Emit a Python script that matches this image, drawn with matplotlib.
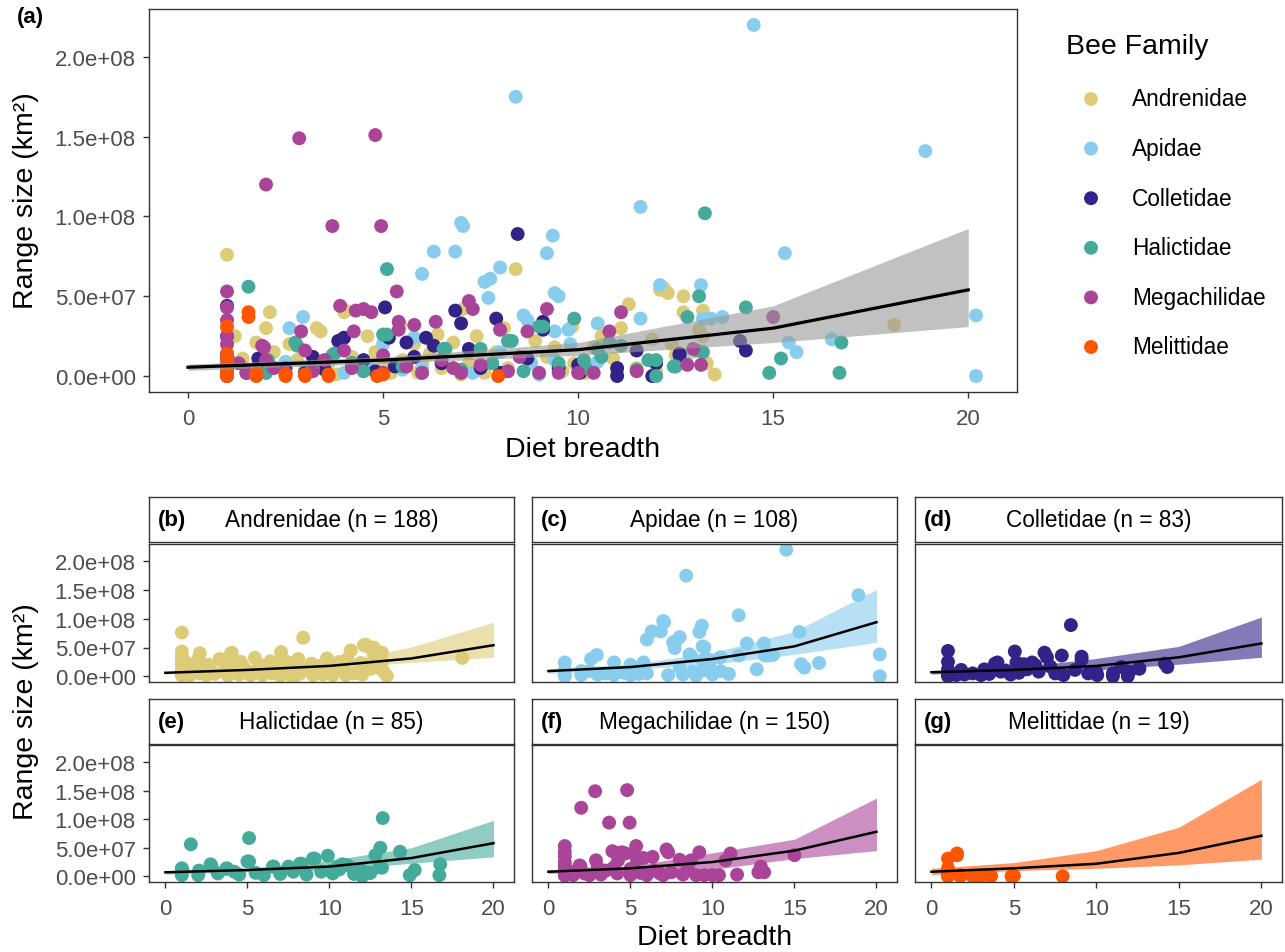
import matplotlib
matplotlib.use("Agg")
import matplotlib.pyplot as plt

plt.rcParams['font.family'] = ['Liberation Sans', 'DejaVu Sans']

W, H = 1285, 953

families = ["Andrenidae", "Apidae", "Colletidae", "Halictidae", "Megachilidae", "Melittidae"]
colors = ["#DDCC77", "#88CCEE", "#332288", "#44AA99", "#AA4499", "#FF5500"]
n_species = [188, 108, 83, 85, 150, 19]
tags = ["(b)", "(c)", "(d)", "(e)", "(f)", "(g)"]

# (diet breadth, range size in 1e8 km2)
andrenidae = [(1.0, 0.76), (1.0, 0.43), (1.0, 0.35), (1.0, 0.30), (1.0, 0.20), (1.0, 0.12), (1.0, 0.05),
              (1.0, 0.01), (1.2, 0.25), (1.4, 0.11), (1.5, 0.02), (1.75, 0.21), (2.0, 0.30), (2.1, 0.40),
              (2.1, 0.05), (2.2, 0.15), (2.5, 0.02), (2.6, 0.20), (2.8, 0.10), (3.0, 0.04), (3.3, 0.30),
              (3.4, 0.28), (3.6, 0.08), (3.8, 0.01), (3.9, 0.22), (4.0, 0.40), (4.05, 0.41), (4.2, 0.12),
              (4.5, 0.03), (4.6, 0.25), (4.8, 0.15), (5.0, 0.06), (5.2, 0.02), (5.45, 0.32), (5.5, 0.10),
              (5.8, 0.20), (5.9, 0.02), (6.0, 0.08), (6.2, 0.14), (6.4, 0.26), (6.5, 0.05), (6.8, 0.21),
              (7.0, 0.01), (7.05, 0.42), (7.2, 0.08), (7.4, 0.25), (7.6, 0.02), (7.9, 0.15), (8.0, 0.02),
              (8.1, 0.30), (8.2, 0.05), (8.4, 0.67), (8.6, 0.12), (8.9, 0.22), (9.0, 0.02), (9.2, 0.12),
              (9.4, 0.18), (9.6, 0.03), (9.85, 0.31), (9.9, 0.08), (10.2, 0.02), (10.4, 0.18), (10.6, 0.25),
              (10.9, 0.11), (11.0, 0.02), (11.1, 0.30), (11.3, 0.45), (11.5, 0.05), (11.9, 0.23), (12.0, 0.03),
              (12.1, 0.54), (12.2, 0.55), (12.3, 0.52), (12.4, 0.20), (12.5, 0.13), (12.7, 0.40), (12.7, 0.50),
              (12.9, 0.15), (13.1, 0.29), (13.2, 0.41), (13.2, 0.25), (13.3, 0.08), (13.5, 0.01), (18.1, 0.32)]

apidae = [(1.0, 0.24), (1.0, 0.10), (1.0, 0.03), (1.0, 0.0), (2.0, 0.09), (2.0, 0.02), (2.5, 0.09),
          (2.6, 0.30), (2.95, 0.37), (3.0, 0.03), (3.5, 0.05), (4.0, 0.24), (4.0, 0.02), (4.6, 0.06),
          (5.0, 0.20), (5.0, 0.02), (5.5, 0.04), (5.8, 0.24), (6.0, 0.64), (6.0, 0.05), (6.3, 0.78),
          (6.85, 0.78), (7.0, 0.96), (7.05, 0.94), (7.3, 0.02), (7.6, 0.59), (7.75, 0.61), (7.7, 0.49),
          (8.0, 0.68), (8.0, 0.15), (8.2, 0.03), (8.4, 1.75), (8.6, 0.38), (8.7, 0.35), (8.8, 0.08),
          (9.0, 0.01), (9.2, 0.77), (9.35, 0.88), (9.4, 0.52), (9.5, 0.50), (9.4, 0.28), (9.4, 0.10),
          (9.75, 0.29), (9.8, 0.20), (10.0, 0.03), (10.5, 0.33), (10.5, 0.09), (11.0, 0.04), (11.6, 1.06),
          (11.6, 0.36), (12.1, 0.57), (12.7, 0.12), (13.15, 0.57), (13.2, 0.36), (13.4, 0.36), (13.7, 0.37),
          (14.5, 2.2), (15.3, 0.77), (15.4, 0.21), (15.6, 0.15), (16.5, 0.23), (18.9, 1.41), (20.2, 0.38),
          (20.2, 0.0)]

colletidae = [(1.0, 0.44), (1.0, 0.25), (1.0, 0.12), (1.0, 0.04), (1.0, 0.0), (1.5, 0.02), (1.8, 0.11),
              (2.0, 0.03), (2.5, 0.05), (3.0, 0.02), (3.2, 0.12), (3.5, 0.04), (3.85, 0.22), (4.0, 0.24),
              (4.2, 0.08), (4.5, 0.10), (4.8, 0.03), (5.05, 0.43), (5.15, 0.24), (5.3, 0.06), (5.6, 0.21),
              (5.8, 0.12), (6.1, 0.24), (6.3, 0.19), (6.5, 0.08), (6.85, 0.41), (7.0, 0.33), (7.2, 0.17),
              (7.5, 0.05), (7.9, 0.36), (8.0, 0.02), (8.45, 0.89), (8.7, 0.11), (9.1, 0.29), (9.1, 0.34),
              (9.5, 0.05), (10.0, 0.07), (10.05, 0.02), (11.0, 0.0), (11.0, 0.05), (11.5, 0.16), (11.9, 0.0),
              (12.0, 0.08), (12.6, 0.13), (12.6, 0.14), (14.15, 0.22), (14.3, 0.16)]

halictidae = [(1.0, 0.14), (1.0, 0.02), (1.05, 0.10), (1.55, 0.56), (2.05, 0.10), (2.0, 0.02), (2.75, 0.21),
              (2.8, 0.19), (3.2, 0.05), (3.7, 0.13), (3.75, 0.14), (4.2, 0.08), (4.5, 0.03), (5.0, 0.26),
              (5.1, 0.26), (5.1, 0.67), (5.5, 0.06), (6.0, 0.02), (6.55, 0.17), (6.6, 0.17), (7.0, 0.04),
              (7.5, 0.17), (7.8, 0.08), (8.2, 0.22), (8.3, 0.22), (8.6, 0.03), (9.0, 0.31), (9.1, 0.31),
              (9.5, 0.08), (9.9, 0.36), (10.15, 0.10), (10.2, 0.05), (10.5, 0.17), (10.6, 0.12), (10.8, 0.21),
              (11.1, 0.19), (11.5, 0.04), (11.8, 0.10), (12.0, 0.0), (12.0, 0.10), (12.45, 0.06), (12.5, 0.06),
              (12.8, 0.37), (13.05, 0.16), (13.1, 0.50), (13.25, 1.02), (13.2, 0.15), (14.3, 0.43), (14.9, 0.02),
              (15.2, 0.11), (16.75, 0.21), (16.7, 0.02)]

megachilidae = [(1.0, 0.53), (1.0, 0.43), (1.0, 0.35), (1.0, 0.25), (1.0, 0.20), (1.0, 0.13), (1.0, 0.06),
                (1.0, 0.01), (1.3, 0.08), (1.5, 0.02), (1.9, 0.19), (1.95, 0.18), (2.0, 1.20), (2.0, 0.10),
                (2.2, 0.05), (2.5, 0.02), (2.85, 1.49), (2.9, 0.28), (3.0, 0.16), (3.2, 0.03), (3.5, 0.10),
                (3.7, 0.94), (3.9, 0.44), (4.0, 0.16), (4.2, 0.05), (4.25, 0.28), (4.3, 0.41), (4.5, 0.42),
                (4.7, 0.40), (4.8, 1.51), (4.95, 0.94), (5.0, 0.13), (5.0, 0.02), (5.35, 0.53), (5.4, 0.34),
                (5.4, 0.29), (5.6, 0.06), (5.8, 0.32), (6.0, 0.02), (6.35, 0.34), (6.5, 0.10), (6.8, 0.05),
                (7.0, 0.02), (7.2, 0.47), (7.3, 0.42), (7.5, 0.07), (8.0, 0.29), (8.2, 0.03), (8.5, 0.12),
                (8.7, 0.28), (9.0, 0.02), (9.2, 0.42), (9.5, 0.02), (10.0, 0.02), (10.4, 0.02), (10.8, 0.28),
                (11.1, 0.40), (11.5, 0.03), (12.8, 0.07), (12.95, 0.17), (13.15, 0.07), (15.0, 0.37)]

melittidae = [(1.0, 0.31), (1.0, 0.14), (1.0, 0.09), (1.0, 0.03), (1.0, 0.01), (1.0, 0.0), (1.55, 0.40),
              (1.55, 0.37), (1.75, 0.02), (1.75, 0.0), (2.5, 0.01), (2.5, 0.0), (3.0, 0.01), (3.0, 0.0),
              (3.6, 0.01), (3.6, 0.0), (4.85, 0.0), (5.0, 0.01), (7.95, 0.0)]

family_points = [andrenidae, apidae, colletidae, halictidae, megachilidae, melittidae]

# fitted curve and ribbon (1e8 km2) at these diet breadths
pred_x = [0, 5, 10, 15, 20]
all_fit = [0.055, 0.10, 0.165, 0.30, 0.54]
all_lo = [0.035, 0.08, 0.13, 0.21, 0.31]
all_hi = [0.075, 0.12, 0.21, 0.44, 0.925]

fam_fit = [[0.06, 0.11, 0.18, 0.31, 0.54],
           [0.09, 0.16, 0.30, 0.52, 0.94],
           [0.07, 0.11, 0.18, 0.33, 0.57],
           [0.07, 0.11, 0.17, 0.32, 0.58],
           [0.08, 0.14, 0.25, 0.45, 0.78],
           [0.08, 0.14, 0.22, 0.41, 0.71]]
fam_lo = [[0.04, 0.09, 0.14, 0.24, 0.33],
          [0.05, 0.12, 0.21, 0.38, 0.59],
          [0.04, 0.08, 0.11, 0.21, 0.33],
          [0.04, 0.08, 0.10, 0.23, 0.34],
          [0.05, 0.10, 0.12, 0.31, 0.45],
          [0.03, 0.10, 0.14, 0.20, 0.30]]
fam_hi = [[0.08, 0.13, 0.23, 0.51, 0.94],
          [0.13, 0.21, 0.41, 0.78, 1.51],
          [0.10, 0.15, 0.31, 0.52, 1.03],
          [0.10, 0.14, 0.28, 0.50, 0.98],
          [0.11, 0.18, 0.41, 0.65, 1.37],
          [0.14, 0.24, 0.45, 0.86, 1.70]]

yticks = [0, 0.5e8, 1.0e8, 1.5e8, 2.0e8]
ytick_labels = ["0.0e+00", "5.0e+07", "1.0e+08", "1.5e+08", "2.0e+08"]
xticks = [0, 5, 10, 15, 20]

E8 = 1e8
fig = plt.figure(figsize=(W / 100, H / 100), dpi=100)


def px_axes(left, top, right, bottom):
    return fig.add_axes([left / W, 1 - bottom / H, (right - left) / W, (bottom - top) / H])


def px_text(x, y, s, **kw):
    fig.text(x / W, 1 - y / H, s, **kw)


def style(ax):
    for sp in ax.spines.values():
        sp.set_color("#333333")
        sp.set_linewidth(1.0)
    ax.tick_params(direction="out", length=4.5, width=1.0, color="#333333",
                   labelsize=16, labelcolor="#4D4D4D")
    ax.tick_params(axis="x", pad=7)
    ax.tick_params(axis="y", pad=5)
    ax.set_xlim(-1.0, 21.25)
    ax.set_ylim(-0.1 * E8, 2.3 * E8)
    ax.set_xticks(xticks, [str(v) for v in xticks])
    ax.set_yticks(yticks, ytick_labels)


# ---- panel (a)
ax = px_axes(149, 10, 1017, 393)
style(ax)
for pts, c in zip(family_points, colors):
    ax.scatter([p[0] for p in pts], [p[1] * E8 for p in pts], s=100, color=c,
               edgecolors="none", zorder=2)
ax.fill_between(pred_x, [v * E8 for v in all_lo], [v * E8 for v in all_hi],
                color="#999999", alpha=0.6, lw=0, zorder=3)
ax.plot(pred_x, [v * E8 for v in all_fit], color="black", lw=2.3, zorder=4)

px_text(17, 18, "(a)", fontsize=16, fontweight="bold", va="center", ha="left")
px_text(583, 450, "Diet breadth", fontsize=20.5, ha="center", va="center")
px_text(26, 201, "Range size (km²)", fontsize=20.5, ha="center", va="center", rotation=90)

# ---- legend
px_text(1066, 47, "Bee Family", fontsize=20.5, ha="left", va="center")
leg = fig.add_axes([0, 0, 1, 1])
leg.set_xlim(0, W)
leg.set_ylim(H, 0)
leg.axis("off")
for i, (fam, c) in enumerate(zip(families, colors)):
    y = 100 + 49.6 * i
    leg.scatter([1091], [y], s=100, color=c, edgecolors="none")
    px_text(1132, y, fam, fontsize=16.3, ha="left", va="center")

# ---- facet panels (b)-(g)
col_l = [149, 532, 915]
col_r = [514, 897, 1282]
strip_rows = [(498, 543), (700, 745)]
panel_rows = [(545, 683), (746, 883)]

for i, fam in enumerate(families):
    r, c = divmod(i, 3)
    l, rr = col_l[c], col_r[c]
    st, sb = strip_rows[r]
    pt, pb = panel_rows[r]

    sax = px_axes(l, st, rr, sb)
    sax.set_xticks([])
    sax.set_yticks([])
    for sp in sax.spines.values():
        sp.set_color("#333333")
        sp.set_linewidth(1.0)
    sax.text(0.025, 0.5, tags[i], transform=sax.transAxes, fontsize=16,
             fontweight="bold", ha="left", va="center")
    sax.text(0.5, 0.5, f"{fam} (n = {n_species[i]})", transform=sax.transAxes,
             fontsize=16.3, ha="center", va="center")

    ax = px_axes(l, pt, rr, pb)
    style(ax)
    pts = family_points[i]
    ax.scatter([p[0] for p in pts], [p[1] * E8 for p in pts], s=100, color=colors[i],
               edgecolors="none", zorder=2)
    ax.fill_between(pred_x, [v * E8 for v in fam_lo[i]], [v * E8 for v in fam_hi[i]],
                    color=colors[i], alpha=0.6, lw=0, zorder=3)
    ax.plot(pred_x, [v * E8 for v in fam_fit[i]], color="black", lw=1.8, zorder=4)
    if r == 0:
        ax.tick_params(axis="x", length=0, labelbottom=False)
    if c != 0:
        ax.tick_params(axis="y", length=0, labelleft=False)

px_text(715, 938, "Diet breadth", fontsize=20.5, ha="center", va="center")
px_text(26, 712, "Range size (km²)", fontsize=20.5, ha="center", va="center", rotation=90)

fig.savefig("out.png", dpi=100)
